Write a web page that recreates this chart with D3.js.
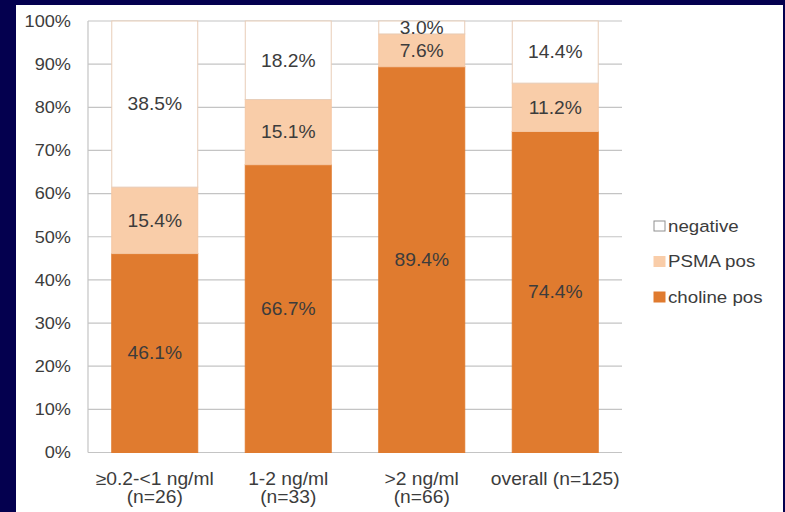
<!DOCTYPE html>
<html>
<head>
<meta charset="utf-8">
<script src="https://cdn.jsdelivr.net/npm/d3@7"></script>
<style>
body { margin: 0; background: #04004f; }
svg { display: block; }
text { font-family: "Liberation Sans", Arial, sans-serif; fill: #3c3c3c; }
</style>
</head>
<body>
<div id="chart"></div>
<script>
var categories = [["\u22650.2-<1 ng/ml", "(n=26)"], ["1-2 ng/ml", "(n=33)"], [">2 ng/ml", "(n=66)"], ["overall (n=125)"]];
var cholinePos = [46.1, 66.7, 89.4, 74.4];
var psmaPos = [15.4, 15.1, 7.6, 11.2];
var negative = [38.5, 18.2, 3.0, 14.4];
var seriesNames = ["choline pos", "PSMA pos", "negative"];
var yTicks = [0, 10, 20, 30, 40, 50, 60, 70, 80, 90, 100];

var fw = 785, fh = 512;
var sx = 1.1; // text in the picture is a bit wider than plain Arial
var colors = { "choline pos": "#e07b2f", "PSMA pos": "#f9cda9", "negative": "#ffffff" };
var strokes = { "choline pos": "#e07b2f", "PSMA pos": "#f5c7a3", "negative": "#e8cdb8" };

function place(px, py) {
	return "translate(" + px + "," + py + ") scale(" + sx + ",1)";
}

var svg = d3.select("#chart").append("svg")
	.attr("width", fw)
	.attr("height", fh);

svg.append("rect")
	.attr("x", 16).attr("y", 5)
	.attr("width", 767).attr("height", fh - 5)
	.attr("fill", "#ffffff");

var x = d3.scaleBand()
	.domain(d3.range(categories.length))
	.range([88, 622])
	.paddingInner(0.356)
	.paddingOuter(0.178);

var y = d3.scaleLinear()
	.domain([0, 100])
	.range([452.5, 21]);

// grid lines
svg.append("g").selectAll("line")
	.data(yTicks)
	.enter().append("line")
	.attr("x1", 88).attr("x2", 622)
	.attr("y1", function(d) { return y(d); })
	.attr("y2", function(d) { return y(d); })
	.attr("stroke", "#c4c4c4")
	.attr("stroke-width", 1.2);

svg.append("line")
	.attr("x1", 88).attr("x2", 88)
	.attr("y1", y(100)).attr("y2", y(0))
	.attr("stroke", "#c4c4c4")
	.attr("stroke-width", 1.2);

// y tick labels
svg.append("g").selectAll("text")
	.data(yTicks)
	.enter().append("text")
	.attr("transform", function(d) { return place(71, y(d)); })
	.attr("dy", "0.35em")
	.attr("text-anchor", "end")
	.style("font-size", "16.5px")
	.text(function(d) { return d + "%"; });

var rows = categories.map(function(c, i) {
	return { "choline pos": cholinePos[i], "PSMA pos": psmaPos[i], "negative": negative[i] };
});
var stacked = d3.stack().keys(seriesNames)(rows);

var layers = svg.append("g").selectAll("g")
	.data(stacked)
	.enter().append("g");

layers.selectAll("rect")
	.data(function(s) { return s.map(function(d, i) { return { key: s.key, d: d, i: i }; }); })
	.enter().append("rect")
	.attr("x", function(p) { return x(p.i); })
	.attr("width", x.bandwidth())
	.attr("y", function(p) { return y(p.d[1]); })
	.attr("height", function(p) { return y(p.d[0]) - y(p.d[1]); })
	.attr("fill", function(p) { return colors[p.key]; })
	.attr("stroke", function(p) { return strokes[p.key]; })
	.attr("stroke-width", 1);

layers.selectAll("text")
	.data(function(s) { return s.map(function(d, i) { return { key: s.key, d: d, i: i }; }); })
	.enter().append("text")
	.attr("transform", function(p) {
		return place(x(p.i) + x.bandwidth() / 2, y((p.d[0] + p.d[1]) / 2));
	})
	.attr("dy", "0.36em")
	.attr("text-anchor", "middle")
	.style("font-size", "17.5px")
	.text(function(p) { return (p.d[1] - p.d[0]).toFixed(1) + "%"; });

// category labels
var cat = svg.append("g").selectAll("text")
	.data(categories)
	.enter().append("text")
	.attr("text-anchor", "middle")
	.style("font-size", "17.5px")
	.attr("transform", function(c, i) { return place(x(i) + x.bandwidth() / 2, 479); });

cat.selectAll("tspan")
	.data(function(c) { return c; })
	.enter().append("tspan")
	.attr("x", 0)
	.attr("dy", function(t, j) { return j === 0 ? "0.35em" : "1.05em"; })
	.text(function(t) { return t; });

// legend
var legendItems = seriesNames.slice().reverse();
var leg = svg.append("g").selectAll("g")
	.data(legendItems)
	.enter().append("g")
	.attr("transform", function(d, i) { return "translate(654," + (226 + i * 35.5) + ")"; });

leg.append("rect")
	.attr("x", 0).attr("y", -5)
	.attr("width", 11).attr("height", 10)
	.attr("fill", function(d) { return colors[d]; })
	.attr("stroke", function(d) { return d === "negative" ? "#909090" : colors[d]; })
	.attr("stroke-width", 1);

leg.append("text")
	.attr("transform", place(14, 0))
	.attr("dy", "0.35em")
	.style("font-size", "17px")
	.text(function(d) { return d; });
</script>
</body>
</html>
